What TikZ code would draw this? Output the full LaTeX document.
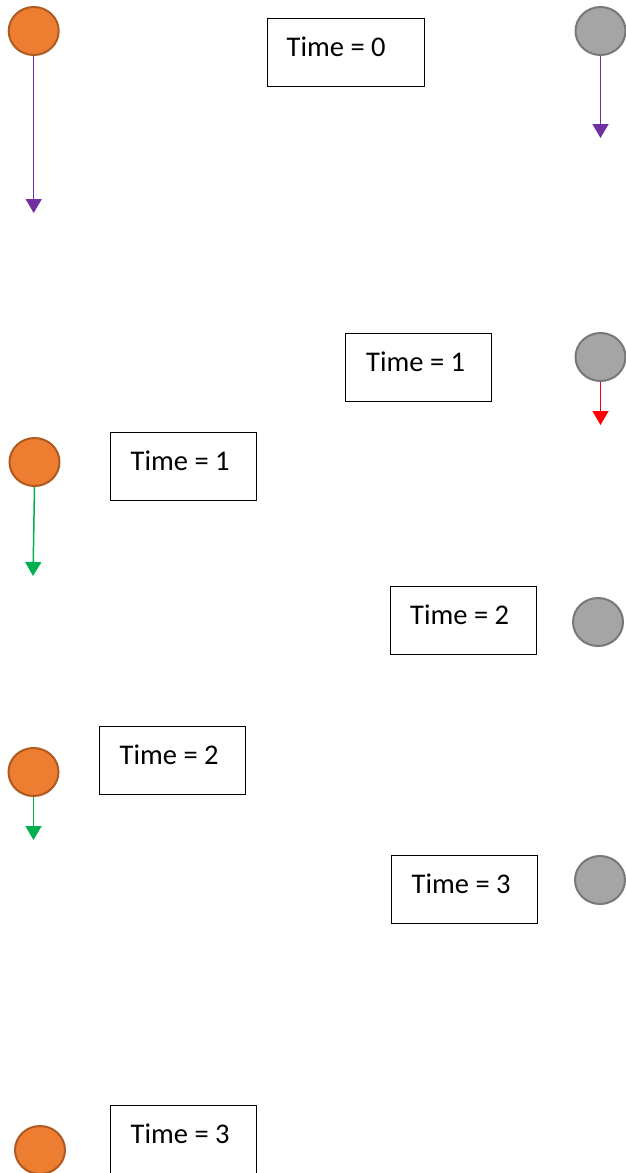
\documentclass[tikz,border=0pt]{standalone}
\usepackage{fontspec}
\setmainfont{Carlito}
\usetikzlibrary{arrows.meta,calc,shapes.geometric}
\definecolor{ballorange}{HTML}{ED7D31}
\definecolor{ballorangeedge}{HTML}{AE5A21}
\definecolor{ballgray}{HTML}{A5A5A5}
\definecolor{ballgrayedge}{HTML}{787878}
\definecolor{vpurple}{HTML}{7030A0}
\definecolor{vgreen}{HTML}{00B050}
\definecolor{vred}{HTML}{FF0000}
\tikzset{
  orangeball/.style={ellipse, draw=ballorangeedge, fill=ballorange, line width=2pt,
    minimum width=50pt, minimum height=48pt, inner sep=0pt},
  grayball/.style={ellipse, draw=ballgrayedge, fill=ballgray, line width=2pt,
    minimum width=50pt, minimum height=48pt, inner sep=0pt},
  timebox/.style={draw=black, line width=1pt, minimum width=146pt, minimum height=68pt,
    inner sep=0pt},
  timetext/.style={anchor=base west, inner sep=0pt, font=\fontsize{28.5}{34}\selectfont},
  velocity/.style={line width=1.5pt, -{Triangle[width=16pt,length=14pt]}},
}
\begin{document}
\begin{tikzpicture}[x=1pt,y=-1pt]
\useasboundingbox (0,0) rectangle (626,1173);

% left-hand (orange) ball at successive times
\node[orangeball] (o0) at (33.7,31) {};
\node[orangeball] (o1) at (34.5,462) {};
\node[orangeball] (o2) at (33.5,772) {};
\node[orangeball] (o3) at (40,1150) {};
\coordinate (o0v) at (33.7,213);
\coordinate (o1v) at (33,576);
\coordinate (o2v) at (33.5,840);
\draw[velocity, vpurple] (o0.south) -- (o0v);
\draw[velocity, vgreen] (o1.south) -- (o1v);
\draw[velocity, vgreen] (o2.south) -- (o2v);

% right-hand (gray) ball at successive times
\node[grayball] (g0) at (600.5,31) {};
\node[grayball] (g1) at (600.5,357) {};
\node[grayball] (g2) at (598,622) {};
\node[grayball] (g3) at (600,880) {};
\coordinate (g0v) at (600.5,138);
\coordinate (g1v) at (600.5,425);
\draw[velocity, vpurple] (g0.south) -- (g0v);
\draw[velocity, vred] (g1.south) -- (g1v);

% time stamps
\node[timebox, minimum width=157pt] (t0) at (345.5,52) {};
\node[timetext] at ($(t0.north west)+(20,39)$) {Time = 0};
\node[timebox] (t1r) at (418,367) {};
\node[timetext] at ($(t1r.north west)+(21.5,39)$) {Time = 1};
\node[timebox] (t1l) at (183,466) {};
\node[timetext] at ($(t1l.north west)+(21,39)$) {Time = 1};
\node[timebox] (t2r) at (463,620) {};
\node[timetext] at ($(t2r.north west)+(20.5,39)$) {Time = 2};
\node[timebox] (t2l) at (172,760) {};
\node[timetext] at ($(t2l.north west)+(21,39)$) {Time = 2};
\node[timebox] (t3r) at (464,889) {};
\node[timetext] at ($(t3r.north west)+(21,39)$) {Time = 3};
\node[timebox] (t3l) at (183,1139) {};
\node[timetext] at ($(t3l.north west)+(21,39)$) {Time = 3};
\end{tikzpicture}
\end{document}
